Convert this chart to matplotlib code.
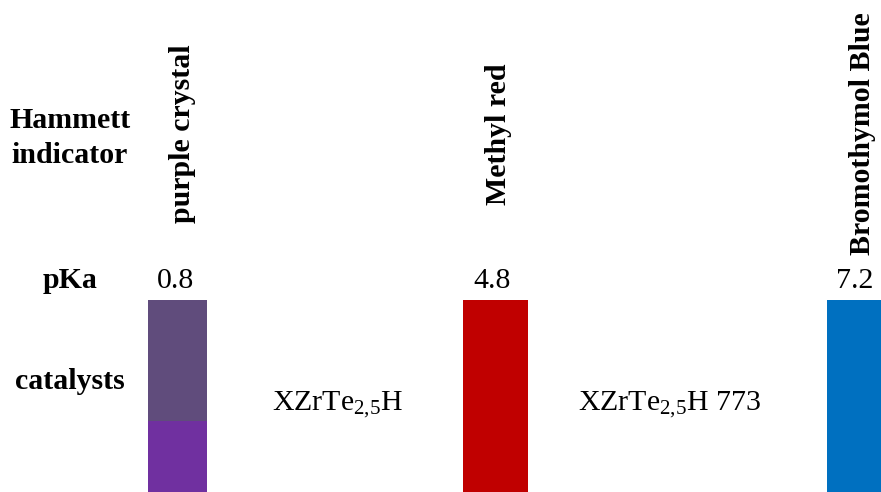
import matplotlib
matplotlib.use("Agg")
import matplotlib.pyplot as plt

plt.rcParams['font.family'] = ['Liberation Serif', 'DejaVu Serif']
plt.rcParams['mathtext.fontset'] = 'custom'
plt.rcParams['mathtext.rm'] = 'Liberation Serif'
plt.rcParams['mathtext.it'] = 'Liberation Serif:italic'
plt.rcParams['mathtext.bf'] = 'Liberation Serif:bold'

# ---- data ----
row_labels = ["Hammett", "indicator", "pKa", "catalysts"]
indicators = ["purple crystal", "Methyl red", "Bromothymol Blue"]
pka_values = [0.8, 4.8, 7.2]
catalysts = ["XZrTe$_{2{,}5}$H", "XZrTe$_{2{,}5}$H 773"]
# colour segments of each indicator bar (top -> bottom), fraction of bar height
bar_segments = [
    [(0.63, "#604C7C"), (0.37, "#7030A0")],
    [(1.0, "#C00000")],
    [(1.0, "#0070C0")],
]

# ---- layout (pixel coordinates) ----
W, H = 881, 492
fig = plt.figure(figsize=(W / 100, H / 100), dpi=100)
ax = fig.add_axes([0, 0, 1, 1])
ax.set_xlim(0, W)
ax.set_ylim(H, 0)
ax.axis("off")

FS = 21.5
bar_x = [177.5, 495.5, 860]
bar_w = [59, 65, 66]
bar_top, bar_bottom = 300, 492
label_x = [182, 499, 863]
label_y = 134
num_x = [175, 492, 855]
num_y = 288
cat_x = [338, 670]
cat_y = 410
row_x = 70
row_y = [128, 163, 288, 389]

# bars
for x, w, segs in zip(bar_x, bar_w, bar_segments):
    top = bar_top
    for frac, col in segs:
        h = frac * (bar_bottom - bar_top)
        ax.bar(x, h, bottom=top, width=w, color=col, align="center", clip_on=False)
        top += h

# indicator names
for x, name in zip(label_x, indicators):
    ax.text(x, label_y, name, rotation=90, ha="center", va="center",
            fontsize=FS, fontweight="bold")

# pKa values
for x, v in zip(num_x, pka_values):
    ax.text(x, num_y, f"{v:.1f}", ha="center", va="baseline", fontsize=FS)

# catalysts
for x, c in zip(cat_x, catalysts):
    ax.text(x, cat_y, c, ha="center", va="baseline", fontsize=FS)

# row labels
for y, lab in zip(row_y, row_labels):
    ax.text(row_x, y, lab, ha="center", va="baseline", fontsize=FS,
            fontweight="bold")

fig.savefig("out.png", dpi=100)
